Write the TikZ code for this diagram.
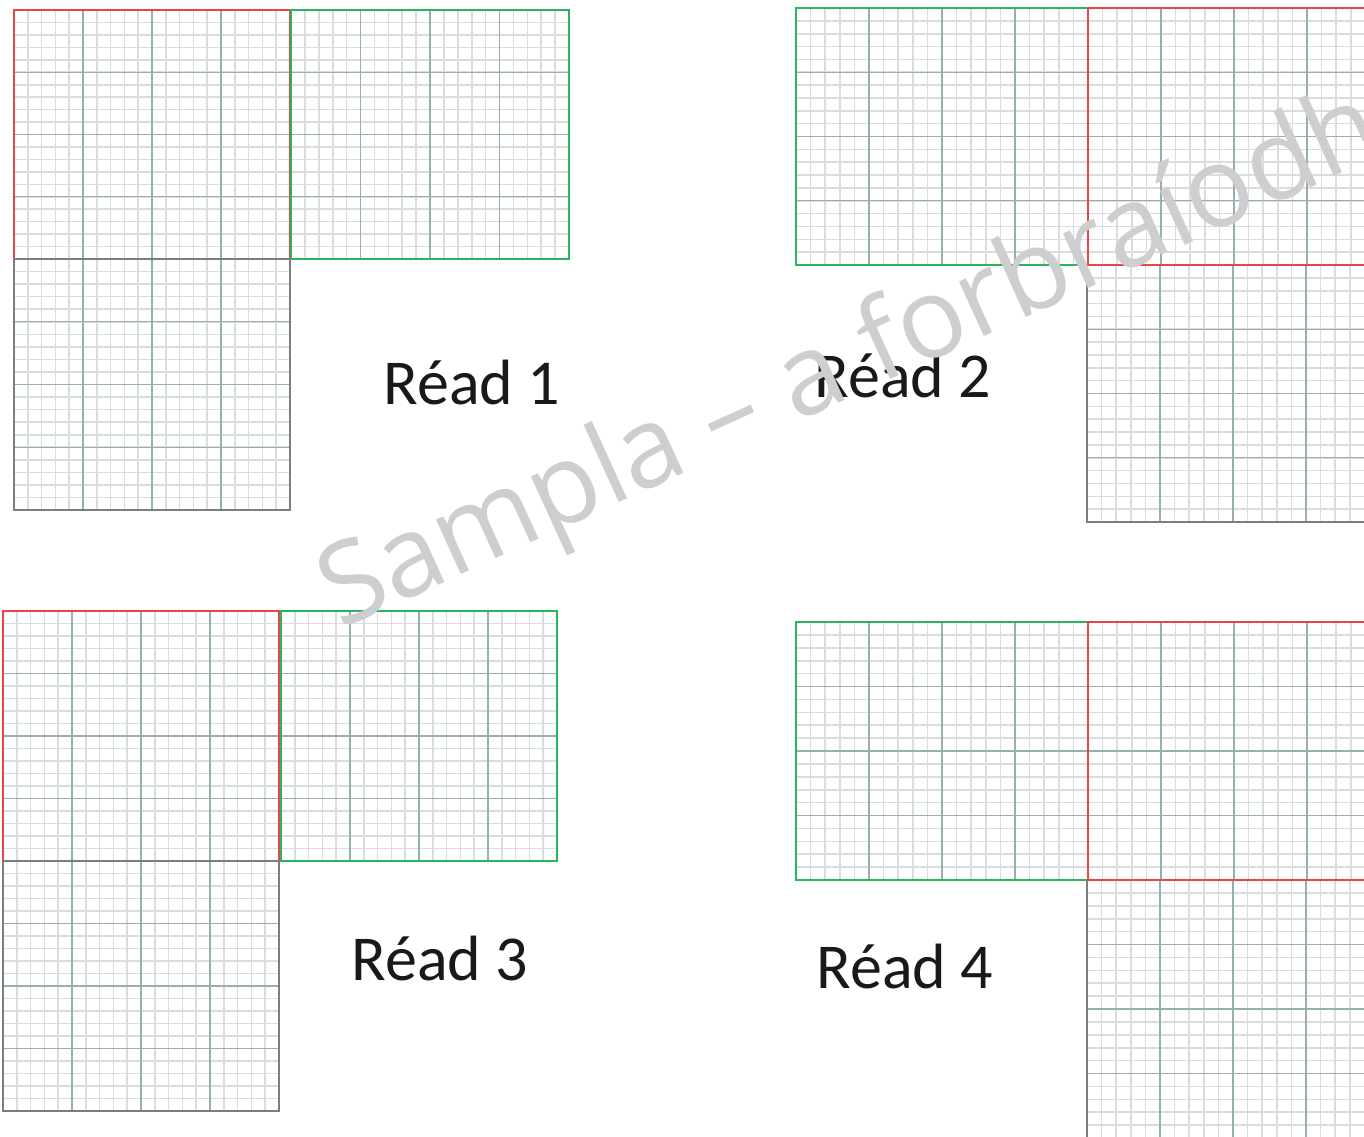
\documentclass[tikz,border=0pt]{standalone}
\usepackage{fontspec}
\setmainfont{Carlito}
\newfontfamily\wmfont{Open Sans}
\definecolor{minorc}{RGB}{218,221,221}
\definecolor{majorc}{RGB}{150,176,176}
\definecolor{redc}{RGB}{232,70,70}
\definecolor{greenc}{RGB}{40,182,92}
\definecolor{greyc}{RGB}{125,125,125}
\definecolor{wmc}{RGB}{206,206,208}
\tikzset{
  minorln/.style={draw=minorc, line width=1.2pt},
  majorln/.style={draw=majorc, line width=0.8pt},
  redframe/.style={draw=redc, line width=1.5pt},
  greenframe/.style={draw=greenc, line width=1.5pt},
  greyframe/.style={draw=greyc, line width=1.5pt},
  lbl/.style={font=\fontsize{48}{56}\selectfont, text=black!90, anchor=base, inner sep=0pt},
  wm/.style={font=\wmfont\fontsize{84}{100}\selectfont, text=wmc, anchor=base west, inner sep=0pt, rotate=24.5}
}
% #1 x0, #2 y0, #3 width, #4 height
\newcommand{\gridpaper}[4]{%
  \foreach \i in {1,...,19}{%
    \draw[minorln] ({#1+\i*#3/20},#2) -- ({#1+\i*#3/20},{#2+#4});
    \draw[minorln] (#1,{#2+\i*#4/20}) -- ({#1+#3},{#2+\i*#4/20});
  }%
  \foreach \i in {1,2,3}{%
    \draw[majorln] ({#1+\i*#3/4},#2) -- ({#1+\i*#3/4},{#2+#4});
    \draw[majorln] (#1,{#2+\i*#4/4}) -- ({#1+#3},{#2+\i*#4/4});
  }%
}
\newcommand{\gridframe}[5]{\draw[#5] (#1,#2) rectangle ({#1+#3},{#2+#4});}
\begin{document}
\begin{tikzpicture}[x=0.75pt,y=-0.75pt]
\useasboundingbox (0,0) rectangle (1364,1136);
\begin{scope}
\clip (0,0) rectangle (1364,1136);
% Read 1
\gridpaper{14}{10}{276}{249}
\gridpaper{291}{10}{278}{249}
\gridpaper{14}{259}{276}{251}
\gridframe{14}{10}{276}{249}{redframe}
\gridframe{291}{10}{278}{249}{greenframe}
\gridframe{14}{259}{276}{251}{greyframe}
% Read 2
\gridpaper{796}{8}{292}{257}
\gridpaper{1088}{8}{292}{257}
\gridpaper{1087}{265}{292}{257}
\gridframe{796}{8}{292}{257}{greenframe}
\gridframe{1087}{265}{292}{257}{greyframe}
\gridframe{1088}{8}{292}{257}{redframe}
% Read 3
\gridpaper{3}{611}{276}{250}
\gridpaper{281}{611}{276}{250}
\gridpaper{3}{861}{276}{250}
\gridframe{3}{611}{276}{250}{redframe}
\gridframe{281}{611}{276}{250}{greenframe}
\gridframe{3}{861}{276}{250}{greyframe}
% Read 4
\gridpaper{796}{622}{292}{258}
\gridpaper{1088}{622}{292}{258}
\gridpaper{1087}{880}{292}{258}
\gridframe{796}{622}{292}{258}{greenframe}
\gridframe{1087}{880}{292}{258}{greyframe}
\gridframe{1088}{622}{292}{258}{redframe}
% labels
\node[lbl] (r1) at (472,404) {Réad 1};
\node[lbl] (r2) at (903,397) {Réad 2};
\node[lbl] (r3) at (440,980) {Réad 3};
\node[lbl] (r4) at (905,988) {Réad 4};
% watermark
\node[wm] (wmark) at (340,630) {Sampla – a forbraíodh};
\end{scope}
\end{tikzpicture}
\end{document}
